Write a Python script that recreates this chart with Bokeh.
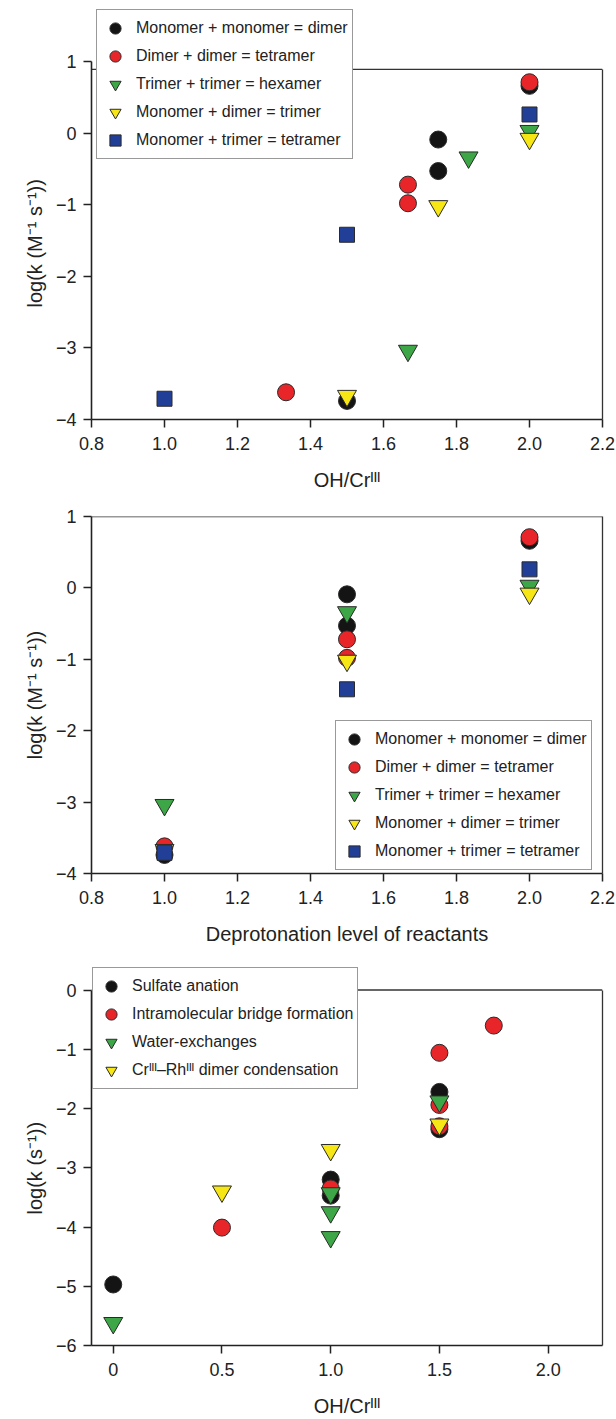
from bokeh.plotting import figure
from bokeh.layouts import column
from bokeh.models import FixedTicker, Legend, LegendItem, Range1d, LinearAxis, Span, Title
from bokeh.embed import file_html
from bokeh.resources import INLINE

FONT = "Liberation Sans"

# ---------------- Panels 1 & 2: bimolecular condensations ----------------
mm_label = "Monomer + monomer = dimer"
mm_ohcr = [1.5, 1.75, 1.75, 2.0]
mm_dep = [1.0, 1.5, 1.5, 2.0]
mm_logk = [-3.74, -0.09, -0.53, 0.66]

dd_label = "Dimer + dimer = tetramer"
dd_ohcr = [1.333, 1.667, 1.667, 2.0]
dd_dep = [1.0, 1.5, 1.5, 2.0]
dd_logk = [-3.62, -0.72, -0.98, 0.71]

tt_label = "Trimer + trimer = hexamer"
tt_ohcr = [1.667, 1.833, 2.0]
tt_dep = [1.0, 1.5, 2.0]
tt_logk = [-3.04, -0.34, 0.03]

md_label = "Monomer + dimer = trimer"
md_ohcr = [1.5, 1.75, 2.0]
md_dep = [1.0, 1.5, 2.0]
md_logk = [-3.67, -1.02, -0.08]

mt_label = "Monomer + trimer = tetramer"
mt_ohcr = [1.0, 1.5, 2.0]
mt_dep = [1.0, 1.5, 2.0]
mt_logk = [-3.71, -1.42, 0.26]

# ---------------- Panel 3: unimolecular processes ----------------
sa_label = "Sulfate anation"
sa_ohcr = [0.0, 1.0, 1.0, 1.5, 1.5]
sa_logk = [-4.97, -3.20, -3.47, -1.72, -2.35]

ib_label = "Intramolecular bridge formation"
ib_ohcr = [0.5, 1.0, 1.5, 1.5, 1.5, 1.75]
ib_logk = [-4.01, -3.35, -1.06, -1.94, -2.30, -0.60]

we_label = "Water-exchanges"
we_ohcr = [0.0, 1.0, 1.0, 1.0, 1.5]
we_logk = [-5.62, -3.43, -3.75, -4.17, -1.88]

cr_label = "Cr\u1d35\u1d35\u1d35\u2013Rh\u1d35\u1d35\u1d35 dimer condensation"
cr_ohcr = [0.5, 1.0, 1.5]
cr_logk = [-3.40, -2.70, -2.27]

# ---------------- ticks / labels ----------------
x12_ticks = [0.8, 1.0, 1.2, 1.4, 1.6, 1.8, 2.0, 2.2]
x12_labels = ["0.8", "1.0", "1.2", "1.4", "1.6", "1.8", "2.0", "2.2"]
y12_ticks = [-4, -3, -2, -1, 0, 1]
y12_labels = ["\u22124", "\u22123", "\u22122", "\u22121", "0", "1"]

x3_ticks = [0.0, 0.5, 1.0, 1.5, 2.0]
x3_labels = ["0", "0.5", "1.0", "1.5", "2.0"]
y3_ticks = [-6, -5, -4, -3, -2, -1, 0]
y3_labels = ["\u22126", "\u22125", "\u22124", "\u22123", "\u22122", "\u22121", "0"]

xlabel_ohcr = "OH/Cr\u1d35\u1d35\u1d35"
xlabel_dep = "Deprotonation level of reactants"
ylabel_bi = "log(k (M\u207b\u00b9 s\u207b\u00b9))"
ylabel_uni = "log(k (s\u207b\u00b9))"

BLACK = "#141414"
RED = "#e8262a"
GREEN = "#3da646"
YELLOW = "#f6e615"
BLUE = "#223f98"
EDGE = "#2a2a2a"
AXC = "#222222"


def style_axis(ax):
    ax.minor_tick_line_color = None
    ax.major_tick_in = 0
    ax.major_tick_out = 8
    ax.major_tick_line_width = 1.5
    ax.major_tick_line_color = AXC
    ax.axis_line_width = 1.6
    ax.axis_line_color = AXC
    ax.major_label_text_font = FONT
    ax.major_label_text_font_size = "18px"
    ax.major_label_text_color = AXC
    ax.axis_label_text_font = FONT
    ax.axis_label_text_font_size = "20px"
    ax.axis_label_text_font_style = "normal"
    ax.axis_label_text_color = AXC


def make_fig(height, top, bottom, xr, yr, ybounds, box_top, xticks, xlabels, yticks, ylabels,
             xlabel, ylabel, ylabel_align, ylabel_offset):
    p = figure(width=616, height=height, x_range=Range1d(*xr), y_range=Range1d(*yr),
               output_backend="svg", toolbar_location=None,
               min_border_left=91, min_border_right=14,
               min_border_top=top, min_border_bottom=bottom)
    p.grid.visible = False
    p.background_fill_color = "white"
    p.border_fill_color = "white"
    p.outline_line_color = None
    for ax, ticks, labels in ((p.xaxis[0], xticks, xlabels), (p.yaxis[0], yticks, ylabels)):
        ax.ticker = FixedTicker(ticks=ticks)
        ax.major_label_overrides = {t: l for t, l in zip(ticks, labels)}
        style_axis(ax)
    p.yaxis[0].bounds = ybounds
    p.xaxis.axis_label = xlabel
    p.xaxis.major_label_standoff = 9
    p.xaxis.axis_label_standoff = 16
    p.yaxis.major_label_standoff = 7
    # y label as a left-side title, centred on the axis span (not the extended frame)
    p.add_layout(Title(text=ylabel, align=ylabel_align, offset=ylabel_offset, standoff=14,
                       text_font=FONT, text_font_size="20px", text_font_style="normal",
                       text_color=AXC), "left")
    # right border of the box
    rax = LinearAxis(bounds=(ybounds[0], box_top), ticker=FixedTicker(ticks=[]),
                     major_label_text_font_size="0px", axis_line_color="#333333",
                     axis_line_width=1.3, major_tick_line_color=None, minor_tick_line_color=None)
    p.add_layout(rax, "right")
    # top border of the box
    p.add_layout(Span(location=box_top, dimension="width", line_color="#333333",
                      line_width=1.3, level="underlay"))
    return p


def add_series(p, series):
    items = []
    for label, xs, ys, marker, size, color in series:
        r = p.scatter(xs, ys, marker=marker, size=size, fill_color=color,
                      line_color=EDGE, line_width=1)
        items.append(LegendItem(label=label, renderers=[r]))
    return items


def add_legend(p, items, loc):
    lg = Legend(items=items, location=loc, padding=4, spacing=0, margin=0,
                glyph_width=28, glyph_height=28, label_standoff=7, label_height=20,
                label_text_font=FONT, label_text_font_size="16px",
                label_text_color=AXC,
                border_line_color="#333333", border_line_width=1.3,
                background_fill_color="white", background_fill_alpha=1.0)
    p.add_layout(lg)


# Panel 1 (frame extended upward so the legend box can sit above the axis top)
p1 = make_fig(493, 8, 74, (0.8, 2.2), (-4, 1.74), (-4, 1), 0.89,
              x12_ticks, x12_labels, y12_ticks, y12_labels, xlabel_ohcr, ylabel_bi, "left", 112)
items1 = add_series(p1, [
    (mm_label, mm_ohcr, mm_logk, "circle", 17, BLACK),
    (dd_label, dd_ohcr, dd_logk, "circle", 17, RED),
    (tt_label, tt_ohcr, tt_logk, "inverted_triangle", 19, GREEN),
    (md_label, md_ohcr, md_logk, "inverted_triangle", 19, YELLOW),
    (mt_label, mt_ohcr, mt_logk, "square", 15, BLUE),
])
add_legend(p1, items1, (5, 260))

# Panel 2
p2 = make_fig(454, 23, 74, (0.8, 2.2), (-4, 1), (-4, 1), 1,
              x12_ticks, x12_labels, y12_ticks, y12_labels, xlabel_dep, ylabel_bi, "center", 0)
items2 = add_series(p2, [
    (mm_label, mm_dep, mm_logk, "circle", 17, BLACK),
    (dd_label, dd_dep, dd_logk, "circle", 17, RED),
    (tt_label, tt_dep, tt_logk, "inverted_triangle", 19, GREEN),
    (md_label, md_dep, md_logk, "inverted_triangle", 19, YELLOW),
    (mt_label, mt_dep, mt_logk, "square", 15, BLUE),
])
add_legend(p2, items2, (244, 3))

# Panel 3
p3 = make_fig(472, 20, 74, (-0.1, 2.25), (-6, 0.38), (-6, 0), 0,
              x3_ticks, x3_labels, y3_ticks, y3_labels, xlabel_ohcr, ylabel_uni, "left", 131)
items3 = add_series(p3, [
    (sa_label, sa_ohcr, sa_logk, "circle", 17, BLACK),
    (ib_label, ib_ohcr, ib_logk, "circle", 17, RED),
    (we_label, we_ohcr, we_logk, "inverted_triangle", 19, GREEN),
    (cr_label, cr_ohcr, cr_logk, "inverted_triangle", 19, YELLOW),
])
add_legend(p3, items3, (1, 256))

layout = column(p1, p2, p3, spacing=0)
open("out.html", "w").write(file_html(layout, INLINE))
